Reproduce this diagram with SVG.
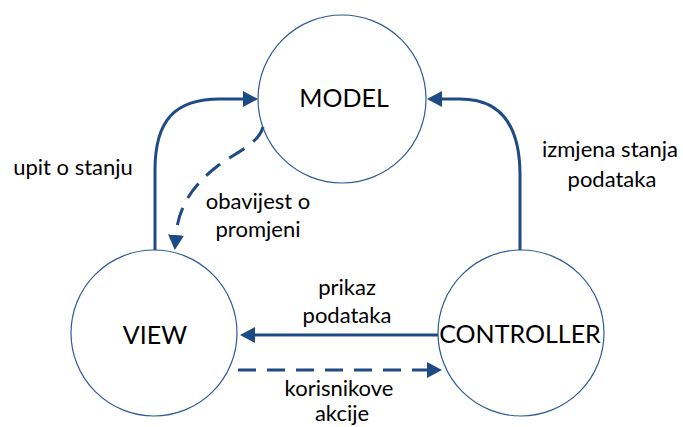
<svg xmlns="http://www.w3.org/2000/svg" width="683" height="427" viewBox="0 0 683 427">
<defs>
<style>
.node{fill:#fff;stroke:#2e5b96;stroke-width:1.2}
.lbl{font-family:Lato,"Liberation Sans",sans-serif;font-size:25px;fill:#000;text-anchor:middle}
.t{font-family:Lato,"Liberation Sans",sans-serif;font-size:22px;fill:#000;text-anchor:middle}
.c{fill:none;stroke:#1f4b85;stroke-width:3}
.d{stroke-dasharray:18 11}
</style>
<marker id="ah" viewBox="0 0 15 16" refX="0" refY="8" markerWidth="15" markerHeight="16" markerUnits="userSpaceOnUse" orient="auto">
<path d="M0,0 L15,8 L0,16 z" fill="#1f4b85"/>
</marker>
</defs>
<rect width="683" height="427" fill="#fff"/>
<g id="model"><circle class="node" cx="342" cy="99" r="84"/><text class="lbl" x="344" y="107">MODEL</text></g>
<g id="view"><circle class="node" cx="154" cy="333" r="83"/><text class="lbl" x="155" y="344">VIEW</text></g>
<g id="controller"><circle class="node" cx="521" cy="333" r="83"/><text class="lbl" x="520" y="343">CONTROLLER</text></g>
<g id="connectors">
<path class="c" d="M155,250 L155,170 C155,120 175,99 220,99 L243,99" marker-end="url(#ah)"/>
<path class="c d" d="M263,127 C258,145 235,152 215,168 C190,188 178,210 176,235" marker-end="url(#ah)"/>
<path class="c" d="M520,250 L520,175 C520,125 500,99 460,99 L442,99" marker-end="url(#ah)"/>
<path class="c" d="M438,335 L255,335" marker-end="url(#ah)"/>
<path class="c d" d="M238,370 L427,370" marker-end="url(#ah)"/>
</g>
<g id="labels">
<text class="t" x="73" y="175">upit o stanju</text>
<text class="t" x="258" y="209">obavijest o</text>
<text class="t" x="258" y="237">promjeni</text>
<text class="t" x="610" y="157">izmjena stanja</text>
<text class="t" x="612" y="187">podataka</text>
<text class="t" x="347" y="295">prikaz</text>
<text class="t" x="347" y="323">podataka</text>
<text class="t" x="339" y="396">korisnikove</text>
<text class="t" x="342" y="421">akcije</text>
</g>
</svg>
